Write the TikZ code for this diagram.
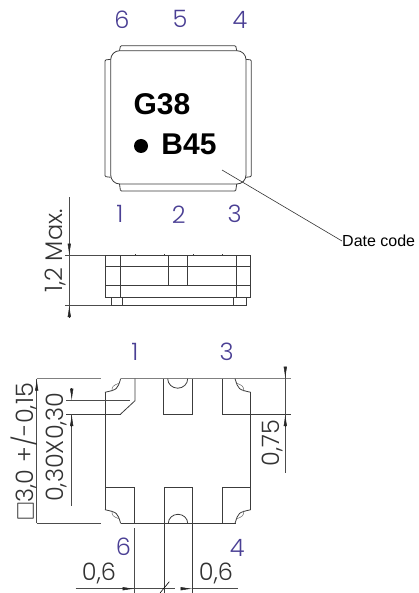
\documentclass[tikz,border=0pt]{standalone}
\usepackage{amssymb}
\usepackage{xcolor}
\usepackage{fontspec}
\usetikzlibrary{arrows.meta}
\setmainfont{Liberation Sans}
\newfontfamily\dimfont{Poppins Light}
\definecolor{pinblue}{HTML}{4A3F94}
\definecolor{linegray}{HTML}{3C3C3C}
\definecolor{dimtext}{HTML}{333333}
\tikzset{
    outline/.style={draw=linegray, line width=0.8pt},
    heavy/.style={draw=black!50, line width=1.1pt},
    dimline/.style={draw=black!70, line width=0.7pt},
    tip/.style={draw=black!85, line width=0.5pt, -{Latex[length=12pt,width=3.4pt]}},
    pinlabel/.style={text=pinblue, font=\dimfont\fontsize{24}{24}\selectfont, inner sep=0pt},
    dimlabel/.style={text=dimtext, font=\dimfont\fontsize{24}{24}\selectfont, inner sep=0pt},
    marking/.style={text=black, font=\bfseries\fontsize{30}{30}\selectfont, inner sep=0pt}
}
\begin{document}
\begin{tikzpicture}[x=1pt, y=-1pt]
\useasboundingbox (0,0) rectangle (418,593);

% Top view
\draw[outline, rounded corners=9pt] (110.7,50.7) rectangle (246,184);
\draw[outline, rounded corners=1pt] (119.5,50.7) -- (120.5,45.7) -- (235.7,45.7) -- (236.7,50.7);
\draw[outline, rounded corners=1pt] (119.5,184) -- (120.5,191) -- (235.7,191) -- (236.7,184);
\draw[outline, rounded corners=1pt] (110.7,59.3) -- (105,60) -- (105,176.6) -- (110.7,177.3);
\draw[outline, rounded corners=1pt] (246,59.3) -- (251.3,60) -- (251.3,176.6) -- (246,177.3);

\node[pinlabel] (top6) at (122,20) {6};
\node[pinlabel] (top5) at (180,19) {5};
\node[pinlabel] (top4) at (240,20) {4};
\node[marking] (line1) at (162,104) {G38};
\node[marking] (line2) at (189,144) {B45};
\fill (141,146) circle (7pt);
\node[font=\fontsize{16}{16}\selectfont, inner sep=0pt, anchor=west] (datecode) at (342,241) {Date code};
\coordinate (datetip) at (222,170);
\draw[draw=black!80, line width=0.6pt] (datetip) -- (datecode.west);

% Side view
\node[pinlabel] (side1) at (120,214) {1};
\node[pinlabel] (side2) at (178.7,215) {2};
\node[pinlabel] (side3) at (234.7,214) {3};
\draw[outline] (105,255.7) rectangle (250.7,297.3);
\draw[outline] (105,266.3) -- (250.7,266.3);
\draw[outline] (105,285.7) -- (250.7,285.7);
\draw[outline] (120.3,255.7) -- (120.3,297.3);
\draw[outline] (236,255.7) -- (236,297.3);
\draw[outline] (168.3,255.7) -- (168.3,285.7);
\draw[outline] (187.7,255.7) -- (187.7,285.7);
\draw[outline] (111,297.3) rectangle (246.3,305);
\draw[outline] (122.3,297.3) -- (122.3,305);
\draw[outline] (233.7,297.3) -- (233.7,305);
\foreach \tx in {135.7,164.3,193.3,222.7}
    \draw[outline] (\tx,254.2) -- (\tx,255.7);
\draw[dimline] (65,255.7) -- (105,255.7);
\draw[dimline] (65,305) -- (111,305);
\draw[dimline] (69.3,197.3) -- (69.3,318.3);
\draw[tip] (69.3,243.7) -- (69.3,255.7);
\draw[tip] (69.3,318) -- (69.3,305);
\node[dimlabel, rotate=90] (height) at (55.5,251) {1,2 Max.};

% Bottom view
\node[pinlabel] (bot1) at (135,351.7) {1};
\node[pinlabel] (bot3) at (226.7,351.7) {3};
\node[pinlabel] (bot6) at (123.3,546.7) {6};
\node[pinlabel] (bot4) at (237.3,548) {4};

\draw[heavy] (36.7,378.7) -- (100.7,378.7);
\draw[heavy] (120.7,378.7) -- (291,378.7);
\draw[dimline] (36.7,523.3) -- (100.7,523.3);
\draw[outline] (120.7,523.3) -- (236,523.3);
\draw[outline] (105,392.3) -- (105,510);
\draw[outline] (250.7,392.3) -- (250.7,510);

% corner cut-outs
\foreach \sx/\sy in {1/1,-1/1,1/-1,-1/-1} {
    \begin{scope}[shift={(177.85,451)}, xscale=\sx, yscale=\sy]
        \draw[outline] (-57.2,-72.3) .. controls (-60.5,-61.5) .. (-72.9,-58.7);
        \draw[draw=black!60, line width=0.5pt] (-66,-59.6) .. controls (-65.5,-65) .. (-58.8,-67.8);
    \end{scope}
}

% pads
\draw[outline] (135,378.7) -- (135,400.7) -- (120.7,414);
\draw[outline] (163.3,378.7) -- (163.3,414) -- (192.7,414) -- (192.7,378.7);
\draw[outline] (167.7,378.7) arc[start angle=180, end angle=360, x radius=10, y radius=-9.5];
\draw[outline] (222.3,378.7) -- (222.3,414) -- (291,414);
\draw[outline] (105,487.3) -- (134.7,487.3) -- (134.7,523.3);
\draw[outline] (164,593) -- (164,487.3) -- (192.7,487.3) -- (192.7,593);
\draw[outline] (168.3,523.3) arc[start angle=180, end angle=360, x radius=9.7, y radius=9];
\draw[outline] (222.3,523.3) -- (222.3,487.3) -- (251,487.3);

% dimensions left
\draw[dimline] (66,400.7) -- (130,400.7);
\draw[outline] (66,414) -- (120.7,414);
\draw[dimline] (36.7,378.7) -- (36.7,523.3);
\draw[tip] (36.7,391) -- (36.7,378.7);
\draw[dimline] (71.7,414) -- (71.7,506);
\draw[tip] (71.7,388) -- (71.7,400.7);
\draw[tip] (71.7,426.7) -- (71.7,414);
\node[dimlabel, rotate=90] (side) at (24.5,452) {$\square$3,0 +/-0,15};
\node[dimlabel, rotate=90] (chamfer) at (56.5,447) {0,30X0,30};

% dimensions right
\draw[dimline] (285.3,366.7) -- (285.3,473.3);
\draw[tip] (285.3,366.7) -- (285.3,378.7);
\draw[tip] (285.3,426.5) -- (285.3,414);
\node[dimlabel, rotate=90] (padlen) at (272.2,443) {0,75};

% dimensions bottom
\draw[dimline] (134.7,528) -- (134.7,593);
\draw[dimline] (75.7,588.7) -- (175,588.7);
\draw[dimline] (192.7,588.7) -- (238,588.7);
\draw[tip] (122.5,588.7) -- (134.7,588.7);
\draw[tip] (180.7,588.7) -- (192.7,588.7);
\draw[draw=black, line width=0.6pt] (160,593) -- (169.3,581.7);
\node[dimlabel] (gapleft) at (99,573) {0,6};
\node[dimlabel] (gapright) at (216,573) {0,6};
\end{tikzpicture}
\end{document}
